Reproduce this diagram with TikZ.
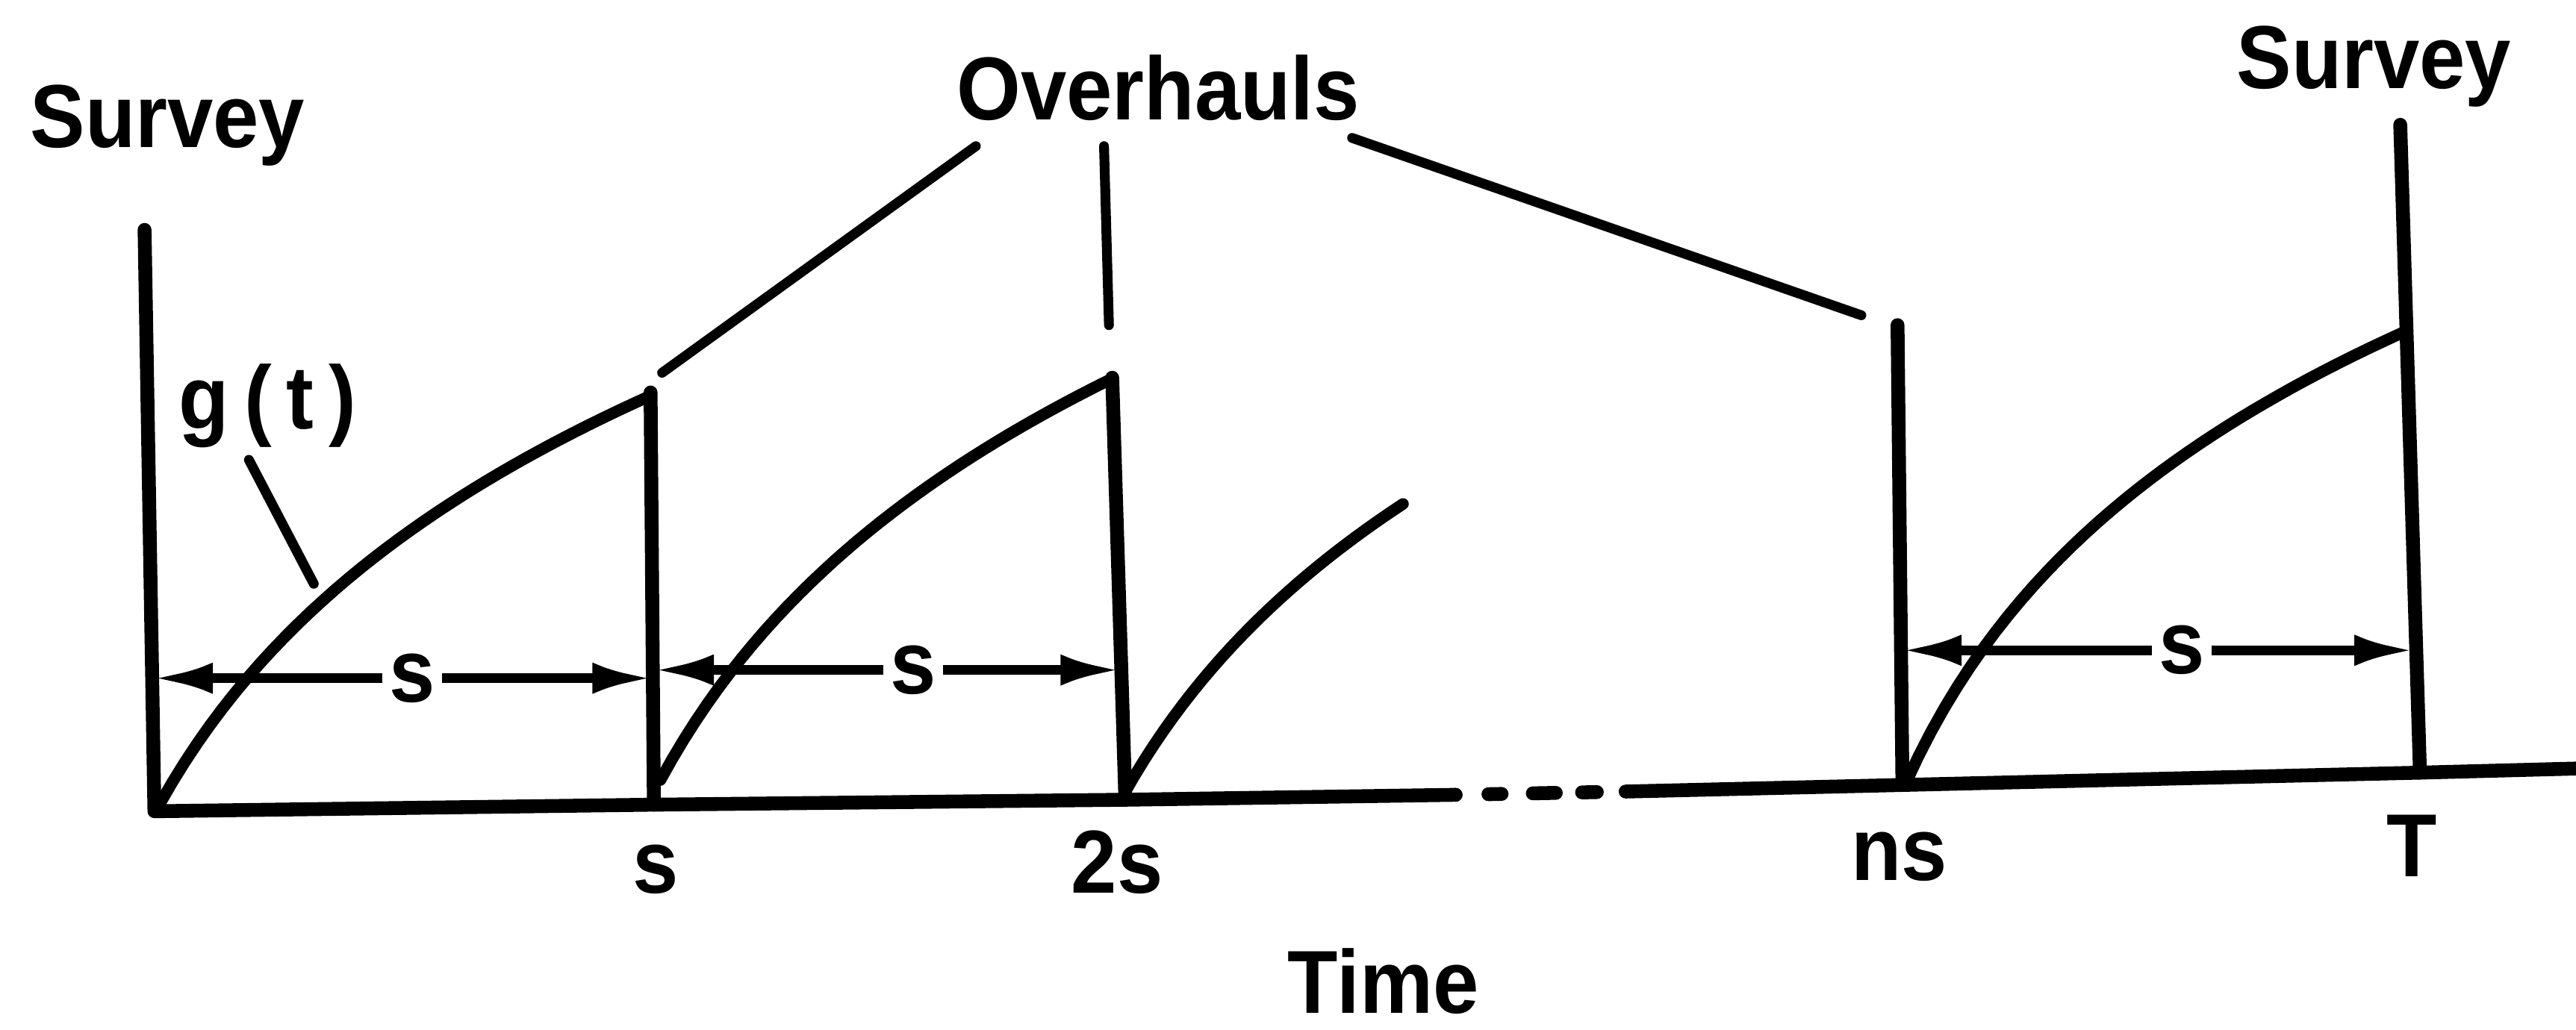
\documentclass[tikz,border=0pt]{standalone}
\usepackage{fontspec}
\setmainfont{Liberation Sans}[FakeStretch=0.92]
\usepackage{tikz}
\usetikzlibrary{arrows.meta,positioning}

\begin{document}
\begin{tikzpicture}[
  lab/.style={font=\bfseries\fontsize{15.5}{18}\selectfont, inner sep=1pt},
  axisline/.style={line width=2.4pt, line cap=round, line join=round},
  gline/.style={line width=2.0pt, line cap=round},
  lead/.style={line width=1.7pt, line cap=round},
  dimarr/.style={-{Latex[length=0.37cm,width=0.19cm]}, line width=1.7pt}
]
\useasboundingbox (0,0) rectangle (15.68,6.27);

%% points on the time axis
\coordinate (o)    at (0.94,1.33);
\coordinate (s0)   at (3.98,1.37);
\coordinate (s2)   at (6.85,1.40);
\coordinate (gapL) at (8.86,1.43);
\coordinate (gapR) at (9.895,1.45);
\coordinate (ns0)  at (11.58,1.49);
\coordinate (T0)   at (14.73,1.565);
\coordinate (tend) at (15.68,1.59);

%% tops of the verticals
\coordinate (oTop)  at (0.88,4.87);
\coordinate (sTop)  at (3.96,3.88);
\coordinate (s2Top) at (6.77,3.97);
\coordinate (nsTop) at (11.55,4.29);
\coordinate (TTop)  at (14.61,5.51);

%% axis and verticals
\draw[axisline] (oTop) -- (o) -- (s0) -- (s2) -- (gapL);
\draw[axisline, dash pattern=on 0pt off 0.20cm on 0.08cm off 0.19cm on 0.14cm off 0.16cm on 0.09cm off 1cm] (gapL) -- (gapR);
\draw[axisline] (gapR) -- (ns0) -- (T0) -- (tend);
\draw[axisline] (sTop) -- (s0);
\draw[axisline] (s2Top) -- (s2);
\draw[axisline] (nsTop) -- (ns0);
\draw[axisline] (TTop) -- (T0);

%% g(t) between overhauls
\draw[gline] plot[domain=0:2.99, samples=40] ({0.97+\x}, {1.37+1.80*ln(1+\x)});
\draw[gline] plot[domain=0:2.75, samples=40] ({4.02+\x}, {1.52+1.85*ln(1+\x)});
\draw[gline] plot[domain=0:1.69, samples=30] ({6.85+\x}, {1.45+1.77*ln(1+\x)});
\draw[gline] plot[domain=0:3.05, samples=40] ({11.60+\x}, {1.50+1.72*ln(1+1.3*\x)});

%% labels
\node[lab, anchor=base] (survL) at (1.02,5.37) {Survey};
\node[lab, anchor=base] (survR) at (14.45,5.73) {Survey};
\node[lab, anchor=base] (over)  at (7.05,5.54) {Overhauls};
\node[lab, anchor=base] (gt)    at (1.63,3.66) {g\,(\,t\,)};

\node[lab, anchor=base] (tS)   at (3.99,0.83)  {s};
\node[lab, anchor=base] (t2S)  at (6.80,0.83)  {2s};
\node[lab, anchor=base] (tNS)  at (11.56,0.91) {ns};
\node[lab, anchor=base] (tT)   at (14.68,0.93) {T};
\node[lab, anchor=base] (time) at (8.42,0.10)  {Time};

%% leaders
\coordinate (ovA) at (5.94,5.38);
\coordinate (ovB) at (6.72,5.38);
\coordinate (ovC) at (8.23,5.43);
\coordinate (ohA) at (4.03,4.00);
\coordinate (ohB) at (6.75,4.29);
\coordinate (ohC) at (11.33,4.35);
\draw[lead] (ovA) -- (ohA);
\draw[lead] (ovB) -- (ohB);
\draw[lead] (ovC) -- (ohC);

\coordinate (gtA) at (1.515,3.47);
\coordinate (gtB) at (1.91,2.715);
\draw[lead] (gtA) -- (gtB);

%% spacing s
\node[lab] (dA) at (2.51,2.14) {s};
\coordinate (dAl) at (0.926,2.14);
\coordinate (dAr) at (3.976,2.14);
\draw[dimarr] (dA) -- (dAl);
\draw[dimarr] (dA) -- (dAr);

\node[lab] (dB) at (5.56,2.19) {s};
\coordinate (dBl) at (3.975,2.19);
\coordinate (dBr) at (6.825,2.19);
\draw[dimarr] (dB) -- (dBl);
\draw[dimarr] (dB) -- (dBr);

\node[lab] (dC) at (13.28,2.31) {s};
\coordinate (dCl) at (11.57,2.31);
\coordinate (dCr) at (14.70,2.31);
\draw[dimarr] (dC) -- (dCl);
\draw[dimarr] (dC) -- (dCr);

\end{tikzpicture}
\end{document}
